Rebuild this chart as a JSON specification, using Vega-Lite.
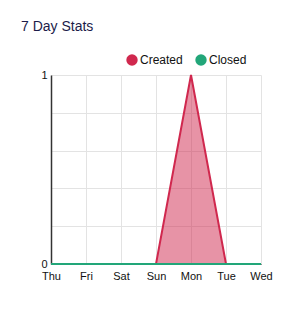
{
  "$schema": "https://vega.github.io/schema/vega-lite/v6.json",
  "autosize": "none",
  "width": 210,
  "height": 189,
  "padding": {"left": 51, "top": 75, "right": 32, "bottom": 52},
  "background": "white",
  "title": {
    "text": "7 Day Stats",
    "anchor": "start",
    "frame": "group",
    "orient": "top",
    "dx": -30,
    "offset": 9,
    "baseline": "alphabetic",
    "font": "Liberation Sans",
    "fontSize": 14,
    "fontWeight": "normal",
    "color": "#1c1c4a"
  },
  "data": {
    "values": [
      {"day": "Thu", "series": "Created", "count": 0},
      {"day": "Fri", "series": "Created", "count": 0},
      {"day": "Sat", "series": "Created", "count": 0},
      {"day": "Sun", "series": "Created", "count": 0},
      {"day": "Mon", "series": "Created", "count": 1},
      {"day": "Tue", "series": "Created", "count": 0},
      {"day": "Wed", "series": "Created", "count": 0},
      {"day": "Thu", "series": "Closed", "count": 0},
      {"day": "Fri", "series": "Closed", "count": 0},
      {"day": "Sat", "series": "Closed", "count": 0},
      {"day": "Sun", "series": "Closed", "count": 0},
      {"day": "Mon", "series": "Closed", "count": 0},
      {"day": "Tue", "series": "Closed", "count": 0},
      {"day": "Wed", "series": "Closed", "count": 0}
    ]
  },
  "mark": {
    "type": "area",
    "fillOpacity": 0.5,
    "line": {"strokeWidth": 2},
    "interpolate": "linear"
  },
  "encoding": {
    "x": {
      "field": "day",
      "type": "ordinal",
      "sort": ["Thu", "Fri", "Sat", "Sun", "Mon", "Tue", "Wed"],
      "scale": {"type": "point", "padding": 0},
      "axis": {
        "title": null,
        "labelAngle": 0,
        "ticks": false,
        "labelPadding": 6,
        "grid": true,
        "gridColor": "#e3e3e3",
        "domainColor": "#333333",
        "labelColor": "#111111",
        "labelFont": "Liberation Sans",
        "labelFontSize": 11
      }
    },
    "y": {
      "field": "count",
      "type": "quantitative",
      "stack": null,
      "scale": {"domain": [0, 1], "nice": false},
      "axis": {
        "title": null,
        "values": [0, 0.2, 0.4, 0.6, 0.8, 1],
        "format": "~g",
        "labelExpr": "datum.value == 0 || datum.value == 1 ? datum.label : ''",
        "ticks": false,
        "labelPadding": 4,
        "grid": true,
        "gridColor": "#e3e3e3",
        "domainColor": "#333333",
        "domainWidth": 1.5,
        "labelColor": "#111111",
        "labelFont": "Liberation Sans",
        "labelFontSize": 11
      }
    },
    "color": {
      "field": "series",
      "type": "nominal",
      "scale": {"domain": ["Created", "Closed"], "range": ["#d0284e", "#22a679"]},
      "legend": {
        "title": null,
        "orient": "none",
        "direction": "horizontal",
        "legendX": 75,
        "legendY": -21,
        "symbolType": "circle",
        "symbolSize": 130,
        "symbolOpacity": 1,
        "symbolStrokeWidth": 0,
        "labelFont": "Liberation Sans",
        "labelFontSize": 12,
        "labelColor": "#111111",
        "labelOffset": 2,
        "columnPadding": 12
      }
    },
    "order": {"field": "series", "sort": "descending"}
  },
  "config": {
    "view": {"stroke": null},
    "legend": {"symbolType": "circle"}
  }
}
